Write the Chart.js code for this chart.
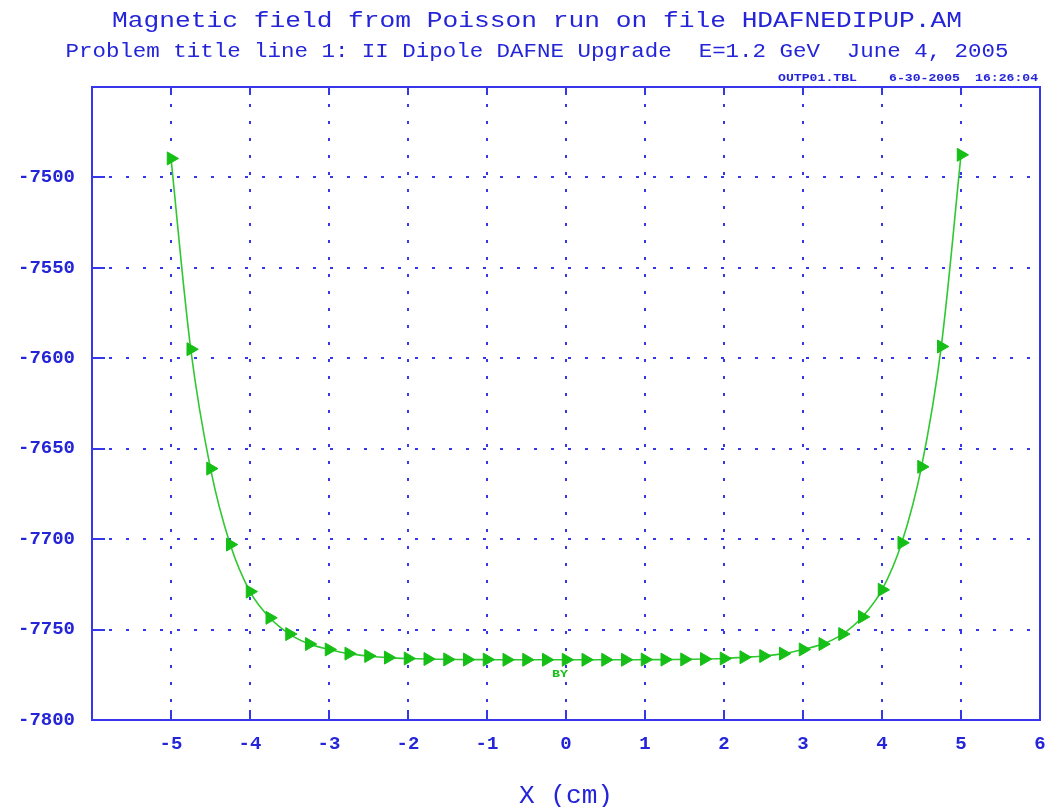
<!DOCTYPE html>
<html>
<head>
<meta charset="utf-8">
<script src="https://cdn.jsdelivr.net/npm/chart.js@4"></script>
<style>
  body { margin: 0; background: #fff; }
</style>
</head>
<body>
<canvas id="myChart" width="1046" height="807"></canvas>
<script>
// Veriler (X cm, BY gauss)
const xValues = [-5, -4.75, -4.5, -4.25, -4, -3.75, -3.5, -3.25, -3, -2.75, -2.5, -2.25, -2, -1.75, -1.5, -1.25, -1, -0.75, -0.5, -0.25,
    0, 0.25, 0.5, 0.75, 1, 1.25, 1.5, 1.75, 2, 2.25, 2.5, 2.75, 3, 3.25, 3.5, 3.75, 4, 4.25, 4.5, 4.75, 5];
const byValues = [-7489.5, -7595, -7661, -7703, -7729, -7743.5, -7752.5, -7758, -7761, -7763.3, -7764.6, -7765.5, -7766, -7766.3, -7766.5, -7766.6, -7766.6, -7766.7, -7766.7, -7766.7,
    -7766.7, -7766.7, -7766.7, -7766.7, -7766.6, -7766.6, -7766.5, -7766.3, -7766, -7765.3, -7764.6, -7763.3, -7761, -7758, -7752.5, -7743, -7728, -7702, -7660, -7593.5, -7487.5];
const xRange = [-6, 6];
const yRange = [-7800, -7450];

const blue = '#2424d8';
const lineBlue = '#3636ec';
const green = '#16bf16';

// Kenar çerçevesi, iç tik işaretleri ve yazılar
function stretchText(ctx, text, x, y, width, align) {
    const w = ctx.measureText(text).width;
    ctx.save();
    ctx.translate(x, y);
    ctx.scale(width / w, 1);
    ctx.textAlign = align;
    ctx.fillText(text, 0, 0);
    ctx.restore();
}

const framePlugin = {
    id: 'frame',
    afterDraw(chart) {
        const ctx = chart.ctx;
        const a = chart.chartArea;
        const x = chart.scales.x;
        const y = chart.scales.y;
        ctx.save();
        ctx.strokeStyle = lineBlue;
        ctx.lineWidth = 2;
        ctx.strokeRect(a.left, a.top, a.right - a.left, a.bottom - a.top);

        ctx.beginPath();
        x.ticks.forEach(function (t) {
            if (t.value <= xRange[0] || t.value >= xRange[1]) return;
            const px = Math.round(x.getPixelForValue(t.value));
            ctx.moveTo(px, a.bottom);
            ctx.lineTo(px, a.bottom - 10);
            ctx.moveTo(px, a.top);
            ctx.lineTo(px, a.top + 8);
        });
        y.ticks.forEach(function (t) {
            if (t.value <= yRange[0] || t.value >= yRange[1]) return;
            const py = Math.round(y.getPixelForValue(t.value));
            ctx.moveTo(a.left, py);
            ctx.lineTo(a.left + 13, py);
        });
        ctx.stroke();

        ctx.fillStyle = blue;
        ctx.textBaseline = 'alphabetic';
        ctx.font = '22px "Liberation Mono"';
        stretchText(ctx, 'Magnetic field from Poisson run on file HDAFNEDIPUP.AM', 537, 27, 850, 'center');
        ctx.font = '20px "Liberation Mono"';
        stretchText(ctx, 'Problem title line 1: II Dipole DAFNE Upgrade  E=1.2 GeV  June 4, 2005', 537, 57, 943, 'center');

        ctx.font = 'bold 11px "Liberation Mono"';
        stretchText(ctx, 'OUTP01.TBL', 778, 81, 79, 'left');
        stretchText(ctx, '6-30-2005', 889, 81, 71, 'left');
        stretchText(ctx, '16:26:04', 975, 81, 63, 'left');

        ctx.font = '26px "Liberation Mono"';
        stretchText(ctx, 'X (cm)', (a.left + a.right) / 2, 803, 94, 'center');

        ctx.fillStyle = green;
        ctx.font = 'bold 10px "Liberation Mono"';
        stretchText(ctx, 'BY', 560, 677, 16, 'center');
        ctx.restore();
    }
};

const tickFont = { family: 'Liberation Mono', weight: 'bold', size: 19 };

var ctx = document.getElementById('myChart');
var myChart = new Chart(ctx, {
    type: 'line',
    data: {
        datasets: [{
            label: 'BY',
            data: xValues.map(function (v, i) { return { x: v, y: byValues[i] }; }),
            borderColor: '#30c830',
            borderWidth: 1.6,
            tension: 0.3,
            pointStyle: 'triangle',
            rotation: 90,
            pointRadius: 7.5,
            pointBackgroundColor: green,
            pointBorderColor: green,
            pointBorderWidth: 1
        }]
    },
    options: {
        responsive: false,
        animation: false,
        devicePixelRatio: 1,
        layout: { autoPadding: false, padding: { top: 87, right: 6, left: 0, bottom: 0 } },
        plugins: {
            legend: { display: false },
            tooltip: { enabled: false },
            title: { display: false }
        },
        scales: {
            x: {
                type: 'linear',
                min: xRange[0],
                max: xRange[1],
                afterFit: function (s) { s.height = 87; s.paddingLeft = 0; s.paddingRight = 0; },
                border: { display: false, dash: [3, 14] },
                grid: {
                    drawTicks: false,
                    lineWidth: 2,
                    color: function (c) {
                        return (c.tick && (c.tick.value <= xRange[0] || c.tick.value >= xRange[1])) ? 'rgba(0,0,0,0)' : lineBlue;
                    }
                },
                ticks: {
                    stepSize: 1,
                    padding: 13,
                    color: blue,
                    font: tickFont,
                    maxRotation: 0,
                    callback: function (v) { return v === xRange[0] ? '' : v; }
                }
            },
            y: {
                type: 'linear',
                min: yRange[0],
                max: yRange[1],
                afterFit: function (s) { s.width = 92; s.paddingTop = 0; s.paddingBottom = 0; },
                border: { display: false, dash: [3, 14] },
                grid: {
                    drawTicks: false,
                    lineWidth: 2,
                    color: function (c) {
                        return (c.tick && (c.tick.value <= yRange[0] || c.tick.value >= yRange[1])) ? 'rgba(0,0,0,0)' : lineBlue;
                    }
                },
                ticks: {
                    stepSize: 50,
                    padding: 17,
                    color: blue,
                    font: tickFont,
                    callback: function (v) { return v === yRange[1] ? '' : v; }
                }
            }
        }
    },
    plugins: [framePlugin]
});
</script>
</body>
</html>
